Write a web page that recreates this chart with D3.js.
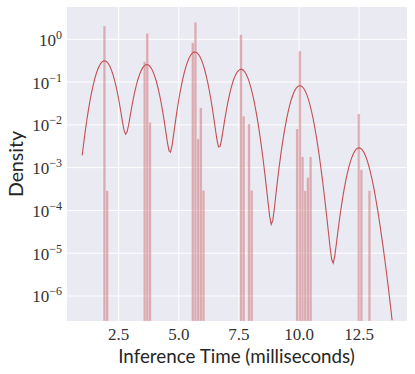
<!DOCTYPE html>
<html><head><meta charset="utf-8">
<script src="https://cdn.jsdelivr.net/npm/d3@7"></script>
<style>body{margin:0;background:#fff}</style>
</head><body>
<svg id="c" width="415" height="374"></svg>
<script>
// Histogram: 100 bins from binStart with width binWidth (milliseconds)
const binStart = 1.855;
const binWidth = 0.1113;
const binIndex = [0, 1, 15, 16, 17, 33, 34, 35, 36, 37, 51, 52, 54, 55, 72, 73, 74, 75, 76, 77, 95, 96, 99];
const binDensity = [2.05, 0.00029, 0.3, 1.38, 0.0115, 0.83, 2.5, 0.0047, 0.025, 0.000295, 1.28, 0.016, 0.0105, 0.000295, 0.008, 0.53, 0.0018, 0.00029, 0.00059, 0.0018, 0.018, 0.00089, 0.00029];
// KDE settings (gaussian kernel, seaborn cut=3)
const kdeBandwidth = 0.29;
const kdeStart = 0.985, kdeEnd = 13.87;
const xTicks = [2.5, 5.0, 7.5, 10.0, 12.5];
const yTickExps = [0, -1, -2, -3, -4, -5, -6];

const svg = d3.select("#c");
const L = 67, R = 407, T = 7, B = 321;
const x = d3.scaleLinear().domain([0.353, 14.49]).range([L, R]);
const y = d3.scaleLog().domain([Math.pow(10, -6.585), Math.pow(10, 0.755)]).range([B, T]);

svg.append("rect").attr("x", L).attr("y", T).attr("width", R - L).attr("height", B - T).attr("fill", "#EAEAF2");
const g = svg.append("g");
g.selectAll("line.gx").data(xTicks).join("line")
  .attr("x1", d => x(d)).attr("x2", d => x(d)).attr("y1", T).attr("y2", B)
  .attr("stroke", "#fff").attr("stroke-width", 1);
g.selectAll("line.gy").data(yTickExps).join("line")
  .attr("y1", d => y(Math.pow(10, d))).attr("y2", d => y(Math.pow(10, d))).attr("x1", L).attr("x2", R)
  .attr("stroke", "#fff").attr("stroke-width", 1);

const bars = binIndex.map((k, i) => ({x0: binStart + k * binWidth, x1: binStart + (k + 1) * binWidth, d: binDensity[i]}));
svg.append("defs").append("clipPath").attr("id", "clip").append("rect")
  .attr("x", L).attr("y", T).attr("width", R - L).attr("height", B - T);
const pg = svg.append("g").attr("clip-path", "url(#clip)");
pg.selectAll("rect.bar").data(bars).join("rect")
  .attr("x", d => x(d.x0)).attr("width", d => x(d.x1) - x(d.x0))
  .attr("y", d => y(d.d)).attr("height", d => B - y(d.d))
  .attr("fill", "#C44E52").attr("fill-opacity", 0.4)
  .attr("stroke", "#fff").attr("stroke-opacity", 0.4).attr("stroke-width", 0.5);

// KDE computed from the histogram bins
const total = d3.sum(bars, b => b.d * binWidth);
const grid = d3.range(201).map(i => kdeStart + (kdeEnd - kdeStart) * i / 200);
const norm = 1 / (kdeBandwidth * Math.sqrt(2 * Math.PI));
const kde = grid.map(t => {
  let s = 0;
  bars.forEach(b => {
    const c = (b.x0 + b.x1) / 2, u = (t - c) / kdeBandwidth;
    s += b.d * binWidth / total * norm * Math.exp(-0.5 * u * u);
  });
  return [t, s];
});
pg.append("path").datum(kde)
  .attr("d", d3.line().x(d => x(d[0])).y(d => y(d[1])))
  .attr("fill", "none").attr("stroke", "#C44E52").attr("stroke-width", 1.1);

// tick labels
const tickFont = "'Liberation Serif', serif";
svg.selectAll("text.xt").data(xTicks).join("text")
  .attr("x", d => x(d)).attr("y", 340).attr("text-anchor", "middle")
  .attr("font-family", tickFont).attr("font-size", 17).attr("fill", "#333")
  .text(d => d.toFixed(1));
yTickExps.forEach(e => {
  const t = svg.append("text").attr("x", 62).attr("y", y(Math.pow(10, e)) + 6.5)
    .attr("text-anchor", "end").attr("font-family", tickFont).attr("font-size", 17).attr("fill", "#333");
  t.append("tspan").text("10");
  t.append("tspan").attr("dy", -7).attr("font-size", 12).text(e === 0 ? "0" : "\u2212" + (-e));
});
const labFont = "Lato, 'Open Sans', sans-serif";
svg.append("text").attr("x", (L + R) / 2 - 0.5).attr("y", 363).attr("text-anchor", "middle")
  .attr("font-family", labFont).attr("font-size", 18.8).attr("fill", "#262626")
  .text("Inference Time (milliseconds)");
svg.append("text").attr("transform", `translate(22.5,${(T + B) / 2}) rotate(-90)`).attr("text-anchor", "middle")
  .attr("font-family", labFont).attr("font-size", 19.5).attr("fill", "#262626")
  .text("Density");
</script>
</body></html>
